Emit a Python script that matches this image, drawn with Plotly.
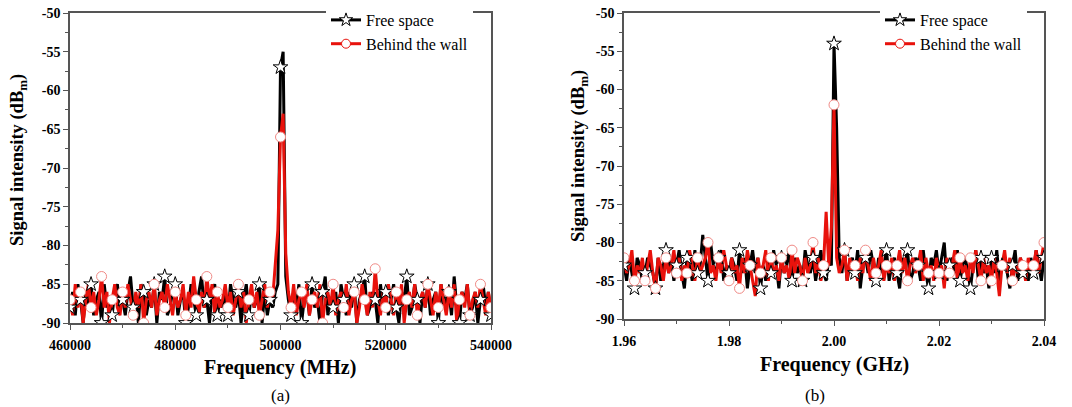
import numpy as np
import plotly.graph_objects as go

# ---------------- data ----------------
freq_a_mhz = list(range(460000, 540001, 500))          # 161 samples
freq_b_ghz = [round(v, 4) for v in np.linspace(1.96, 2.04, 161)]

free_a = [
    -88, -86, -89, -85, -87, -90, -86, -88, -85, -89, -87, -86, -90, -85, -88, -87, -89, -86, -85, -88,
    -87, -89, -86, -84, -88, -87, -90, -85, -86, -89, -87, -88, -85, -90, -86, -87, -84, -89, -88, -86,
    -85, -89, -87, -86, -90, -88, -85, -87, -89, -86, -84, -88, -87, -90, -86, -85, -89, -87, -88, -86,
    -89, -85, -87, -88, -86, -90, -87, -85, -89, -86, -88, -87, -85, -90, -86, -89, -87, -88, -86, -85,
    -57, -55, -84, -87, -89, -86, -88, -85, -90, -87, -86, -89, -85, -88, -87, -90, -86, -84, -89, -87,
    -88, -86, -90, -85, -87, -89, -86, -88, -85, -90, -87, -86, -84, -89, -88, -86, -87, -90, -85, -88,
    -86, -89, -87, -85, -88, -90, -86, -87, -84, -89, -88, -85, -87, -90, -86, -88, -85, -89, -87, -86,
    -90, -85, -88, -87, -86, -89, -84, -88, -90, -86, -87, -85, -89, -88, -86, -90, -87, -85, -88, -86, -89,
]
wall_a = [
    -87, -89, -85, -88, -86, -90, -87, -85, -88, -86, -89, -87, -84, -88, -86, -90, -87, -85, -88, -89,
    -86, -88, -85, -87, -89, -86, -88, -85, -90, -87, -86, -88, -85, -89, -87, -86, -88, -85, -87, -89,
    -86, -88, -87, -85, -89, -86, -88, -84, -87, -89, -86, -88, -84, -87, -85, -89, -86, -88, -87, -85,
    -88, -86, -89, -87, -85, -88, -86, -90, -87, -85, -88, -86, -89, -87, -85, -88, -86, -87, -82, -78,
    -66, -63, -81, -86, -88, -85, -89, -87, -86, -88, -85, -89, -87, -86, -88, -85, -90, -87, -86, -88,
    -85, -89, -87, -86, -88, -85, -89, -87, -86, -90, -88, -85, -87, -89, -86, -88, -83, -87, -89, -86,
    -88, -85, -87, -89, -86, -88, -85, -90, -87, -86, -88, -85, -89, -87, -86, -88, -85, -87, -89, -86,
    -88, -85, -87, -89, -86, -88, -85, -90, -87, -86, -88, -85, -89, -87, -86, -88, -85, -87, -89, -86, -88,
]
free_b = [
    -83, -85, -82, -84, -86, -82, -83, -85, -84, -82, -83, -84, -86, -82, -85, -83, -81, -84, -82, -85,
    -83, -81, -84, -86, -82, -83, -85, -81, -84, -83, -79, -82, -85, -80, -83, -84, -82, -81, -85, -83,
    -84, -82, -83, -85, -81, -84, -82, -86, -83, -81, -84, -82, -86, -83, -85, -82, -84, -81, -83, -86,
    -82, -84, -83, -81, -85, -82, -84, -83, -85, -81, -83, -84, -82, -85, -83, -81, -84, -85, -82, -83,
    -54, -65, -82, -84, -81, -85, -83, -82, -84, -81, -86, -83, -82, -84, -81, -83, -85, -82, -84, -83,
    -81, -85, -83, -82, -84, -86, -82, -83, -81, -85, -84, -82, -83, -85, -81, -84, -86, -82, -83, -81,
    -84, -82, -80, -85, -83, -82, -84, -81, -85, -83, -82, -84, -86, -83, -81, -85, -82, -84, -83, -86,
    -82, -84, -81, -85, -83, -82, -84, -86, -83, -81, -85, -82, -84, -83, -85, -82, -84, -81, -83, -85, -82,
]
wall_b = [
    -82, -84, -83, -81, -85, -83, -84, -82, -85, -83, -81, -84, -86, -82, -83, -85, -82, -84, -83, -81,
    -84, -82, -85, -83, -84, -81, -83, -85, -82, -84, -83, -82, -80, -84, -83, -85, -82, -84, -81, -83,
    -85, -82, -84, -83, -86, -82, -84, -81, -83, -85, -87, -82, -84, -83, -81, -85, -82, -84, -83, -85,
    -82, -84, -83, -85, -81, -84, -82, -83, -85, -82, -84, -83, -80, -84, -82, -85, -83, -76, -83, -78,
    -62, -82, -84, -83, -81, -85, -82, -84, -83, -85, -82, -84, -81, -83, -85, -82, -84, -83, -81, -85,
    -83, -84, -82, -85, -83, -81, -84, -82, -85, -83, -82, -84, -83, -81, -85, -82, -84, -83, -85, -82,
    -84, -83, -86, -82, -84, -83, -81, -85, -82, -84, -83, -85, -82, -84, -81, -83, -85, -82, -84, -83,
    -85, -82, -84, -87, -83, -81, -84, -82, -85, -83, -84, -82, -83, -85, -82, -84, -83, -81, -84, -82, -80,
]

series_names = ["Free space", "Behind the wall"]
y_tickvals = [-90, -85, -80, -75, -70, -65, -60, -55, -50]
y_ticktext = ["-90", "-85", "-80", "-75", "-70", "-65", "-60", "-55", "-50"]
xa_tickvals = [460000, 480000, 500000, 520000, 540000]
xa_ticktext = ["460000", "480000", "500000", "520000", "540000"]
xb_tickvals = [1.96, 1.98, 2.00, 2.02, 2.04]
xb_ticktext = ["1.96", "1.98", "2.00", "2.02", "2.04"]

# ---------------- styles ----------------
SERIF = "'Times New Roman', 'Liberation Serif', 'DejaVu Serif', serif"
BLACK = "#000000"
RED = "#e8120c"
MK = 4  # marker every MK-th sample
LW = 3.0

fig = go.Figure()


def bold(lst):
    return ["<b>%s</b>" % t for t in lst]


def add_panel(xs, free, wall, xref, yref, legend):
    fig.add_trace(go.Scatter(x=xs, y=free, mode="lines", line=dict(color=BLACK, width=LW),
                             xaxis=xref, yaxis=yref, showlegend=False, hoverinfo="skip"))
    fig.add_trace(go.Scatter(x=xs, y=wall, mode="lines", line=dict(color=RED, width=LW),
                             xaxis=xref, yaxis=yref, showlegend=False, hoverinfo="skip"))
    fig.add_trace(go.Scatter(x=xs[::MK], y=free[::MK], mode="markers",
                             marker=dict(symbol="star", size=11, color="white",
                                         line=dict(color=BLACK, width=1)),
                             xaxis=xref, yaxis=yref, showlegend=False, hoverinfo="skip"))
    fig.add_trace(go.Scatter(x=xs[::MK], y=wall[::MK], mode="markers",
                             marker=dict(symbol="circle", size=10, color="white",
                                         line=dict(color="#f08a86", width=1)),
                             xaxis=xref, yaxis=yref, showlegend=False, hoverinfo="skip"))
    fig.add_trace(go.Scatter(x=[None], y=[None], mode="lines+markers", name=series_names[0],
                             line=dict(color=BLACK, width=LW),
                             marker=dict(symbol="star", size=10, color="white",
                                         line=dict(color=BLACK, width=1)),
                             xaxis=xref, yaxis=yref, legend=legend))
    fig.add_trace(go.Scatter(x=[None], y=[None], mode="lines+markers", name=series_names[1],
                             line=dict(color=RED, width=LW),
                             marker=dict(symbol="circle", size=9, color="white",
                                         line=dict(color=RED, width=1)),
                             xaxis=xref, yaxis=yref, legend=legend))


add_panel(freq_a_mhz, free_a, wall_a, "x", "y", "legend")
add_panel(freq_b_ghz, free_b, wall_b, "x2", "y2", "legend2")

W, H = 1072, 407
tickfont = dict(family=SERIF, size=14, color="black")
axis_common = dict(showline=True, linecolor="#555555", linewidth=1.5, mirror=True,
                   ticks="outside", ticklen=5, tickwidth=1.2, tickcolor="#555555",
                   showgrid=False, zeroline=False, tickfont=tickfont, tickmode="array",
                   automargin=False)

legend_font = dict(family=SERIF, size=16, color="black")
fig.update_layout(
    width=W, height=H, margin=dict(l=0, r=0, t=0, b=0, autoexpand=False),
    paper_bgcolor="white", plot_bgcolor="white",
    font=dict(family=SERIF),
    xaxis=dict(domain=[70 / W, 491 / W], range=[460000, 540000], anchor="y",
               tickvals=xa_tickvals, ticktext=bold(xa_ticktext), ticklabelstandoff=3,
               minor=dict(ticks="outside", dtick=10000, tick0=460000, ticklen=3, tickcolor="#555555"),
               **axis_common),
    yaxis=dict(domain=[1 - 323 / H, 1 - 13 / H], range=[-90, -50], anchor="x",
               tickvals=y_tickvals, ticktext=bold(y_ticktext),
               minor=dict(ticks="outside", dtick=2.5, tick0=-90, ticklen=3, tickcolor="#555555"),
               **axis_common),
    xaxis2=dict(domain=[624 / W, 1044 / W], range=[1.96, 2.04], anchor="y2",
                tickvals=xb_tickvals, ticktext=bold(xb_ticktext), ticklabelstandoff=3,
                minor=dict(ticks="outside", dtick=0.01, tick0=1.96, ticklen=3, tickcolor="#555555"),
                **axis_common),
    yaxis2=dict(domain=[1 - 319 / H, 1 - 13 / H], range=[-90, -50], anchor="x2",
                tickvals=y_tickvals, ticktext=bold(y_ticktext),
                minor=dict(ticks="outside", dtick=2.5, tick0=-90, ticklen=3, tickcolor="#555555"),
                **axis_common),
    legend=dict(x=326 / W, y=1 - 3 / H, xanchor="left", yanchor="top", bgcolor="white",
                font=legend_font, tracegroupgap=0, itemwidth=30, borderwidth=0),
    legend2=dict(x=880 / W, y=1 - 3 / H, xanchor="left", yanchor="top", bgcolor="white",
                 font=legend_font, tracegroupgap=0, itemwidth=30, borderwidth=0),
)

title_font = dict(family=SERIF, size=20, color="black")
ytitle_font = dict(family=SERIF, size=18.5, color="black")
ann = [
    dict(text="<b>Frequency (MHz)</b>", x=280 / W, y=1 - 367 / H, font=title_font),
    dict(text="<b>Frequency (GHz)</b>", x=834 / W, y=1 - 364 / H, font=title_font),
    dict(text="<b>Signal intensity (dB<sub>m</sub>)</b>", x=19 / W, y=1 - 160 / H,
         textangle=-90, font=ytitle_font),
    dict(text="<b>Signal intensity (dB<sub>m</sub>)</b>", x=579 / W, y=1 - 156 / H,
         textangle=-90, font=ytitle_font),
]
for a in ann:
    fig.add_annotation(xref="paper", yref="paper", showarrow=False, xanchor="center",
                       yanchor="middle", **a)
fig.add_annotation(text="(a)", x=280 / W, y=1 - 395 / H, xref="paper", yref="paper",
                   xanchor="center", yanchor="middle",
                   showarrow=False, font=dict(family=SERIF, size=17, color="black"))
fig.add_annotation(text="(b)", x=815 / W, y=1 - 395 / H, xref="paper", yref="paper",
                   xanchor="center", yanchor="middle",
                   showarrow=False, font=dict(family=SERIF, size=17, color="black"))

fig.write_html("out.html")
